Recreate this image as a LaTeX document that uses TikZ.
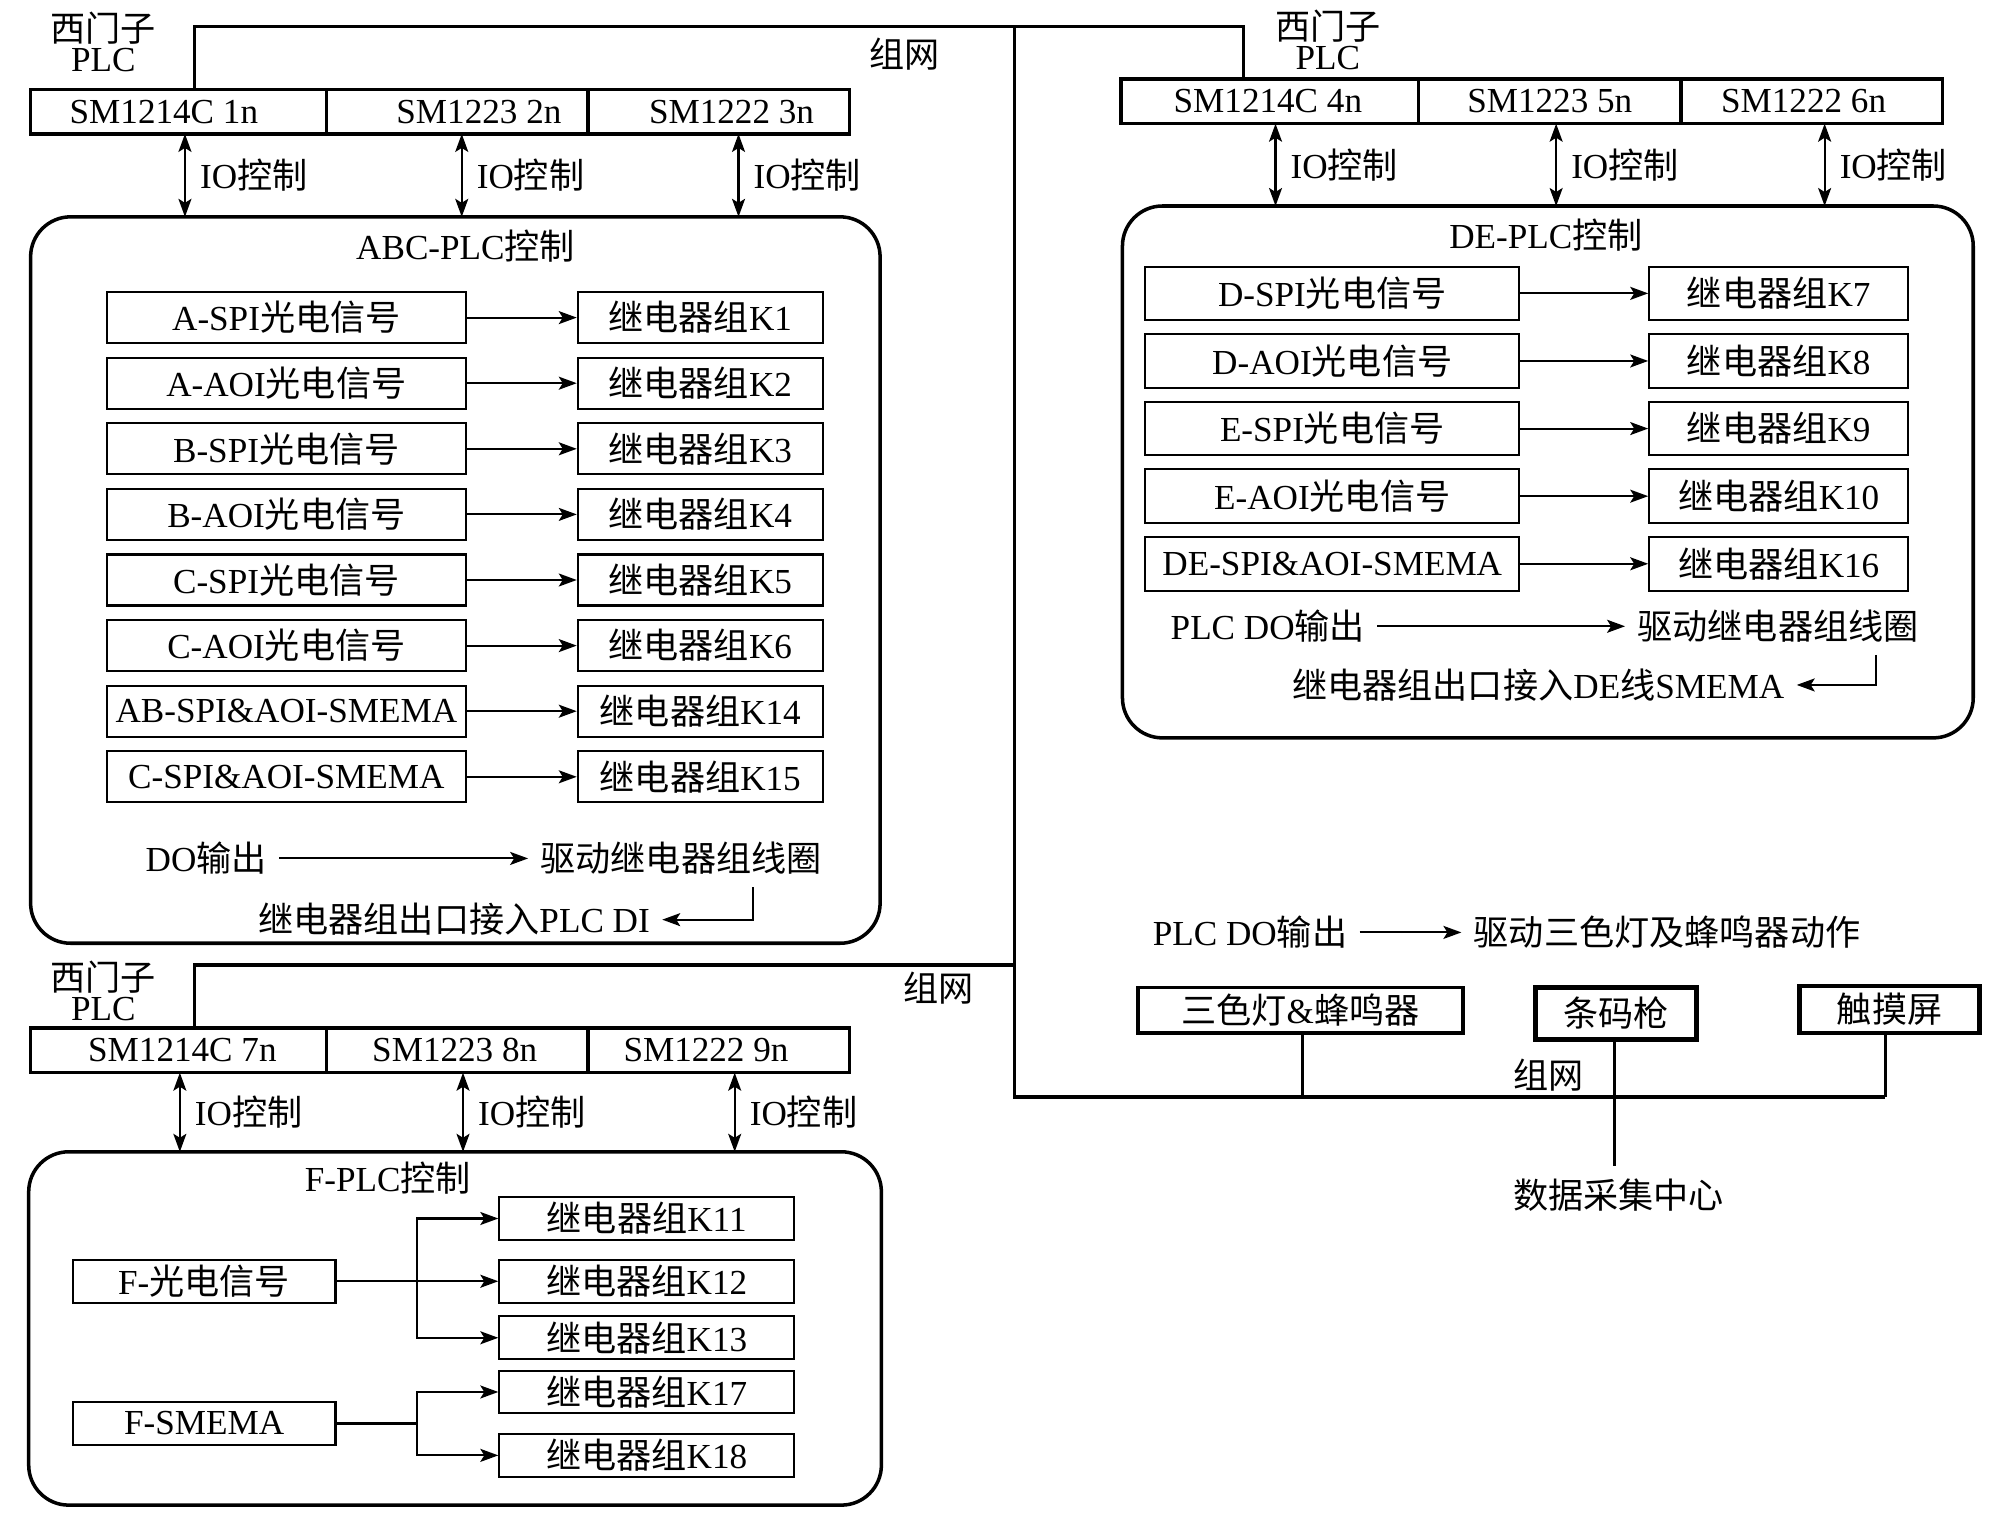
\documentclass[tikz,border=0pt]{standalone}
\usepackage{fontspec}
\setmainfont{Liberation Serif}
\newfontfamily\zh{Noto Sans CJK SC}
\usetikzlibrary{positioning,arrows.meta,calc}

\newcommand{\pxu}{0.012755cm}

\begin{document}
\begin{tikzpicture}[x=\pxu, y=-\pxu, font=\fontsize{10}{12}\selectfont,
    >={Stealth[length=1.8mm,width=1.3mm,inset=0.4mm]},
    cell/.style={draw, line width=1pt, minimum height=35*\pxu, inner sep=0pt, outer sep=0pt, anchor=west},
    sigbox/.style={draw, line width=0.6pt, inner sep=0pt},
    panel/.style={draw, line width=1pt, rounded corners=0.4cm, anchor=north west, inner sep=0pt, outer sep=0pt},
    link/.style={line width=0.6pt},
    net/.style={line width=0.9pt},
    io/.style={<->, line width=0.6pt},
    iolabel/.style={midway, right, inner sep=2pt, xshift=2pt}]
  \useasboundingbox (0,0) rectangle (1568,1196);

  % ---- ABC line PLC ----
  \node[align=center, inner sep=0pt, font=\fontsize{10}{8.5}\selectfont] (plcA) at (81,33) {{\zh 西门子}\\PLC};
  \node[cell, minimum width=232*\pxu, label={[xshift=-11.5*\pxu]center:SM1214C 1n}] (a1) at (24,87.5) {};
  \node[cell, minimum width=205*\pxu, label={[xshift=17*\pxu]center:SM1223 2n}] (a2) at (a1.east) {};
  \node[cell, minimum width=205*\pxu, label={[xshift=10*\pxu]center:SM1222 3n}] (a3) at (a2.east) {};

  \node[panel, minimum width=666*\pxu, minimum height=569.5*\pxu] (abc) at (24,170) {};
  \node (abcT) at (365,193) {ABC-PLC{\zh 控制}};
  \foreach \x/\c in {145/a1, 362/a2, 579/a3}
    \draw[io] (\c.south -| \x,0) -- (abc.north -| \x,0)
      node[iolabel] {IO{\zh 控制}};

  \foreach \i/\s/\k in {0/{A-SPI{\zh 光电信号}}/K1, 1/{A-AOI{\zh 光电信号}}/K2,
      2/{B-SPI{\zh 光电信号}}/K3, 3/{B-AOI{\zh 光电信号}}/K4,
      4/{C-SPI{\zh 光电信号}}/K5, 5/{C-AOI{\zh 光电信号}}/K6,
      6/{AB-SPI\&AOI-SMEMA}/K14, 7/{C-SPI\&AOI-SMEMA}/K15} {
    \node[sigbox, minimum width=281*\pxu, minimum height=40*\pxu] (abcS\i) at (224.5,{249+51.43*\i}) {\s};
    \node[sigbox, minimum width=192*\pxu, minimum height=40*\pxu] (abcK\i) at (549,{249+51.43*\i}) {{\zh 继电器组}\k};
    \draw[link,->] (abcS\i) -- (abcK\i);
  }
  \node (abcDO) at (161.7,673) {DO{\zh 输出}};
  \node (abcDrv) at (534,673) {\zh 驱动继电器组线圈};
  \node (abcDI) at (356,721) {{\zh 继电器组出口接入}PLC DI};
  \draw[link,->] (abcDO) -- (abcDrv);
  \draw[link,->] (abcDrv.south -| 590,0) |- (abcDI);

  % ---- DE line PLC ----
  \node[align=center, inner sep=0pt, font=\fontsize{10}{8.5}\selectfont] (plcD) at (1041,31) {{\zh 西门子}\\PLC};
  \node[cell, minimum width=233*\pxu, label={[xshift=-1.5*\pxu]center:SM1214C 4n}] (d1) at (879,79.5) {};
  \node[cell, minimum width=206*\pxu, label={center:SM1223 5n}] (d2) at (d1.east) {};
  \node[cell, minimum width=205*\pxu, label={[xshift=-6.5*\pxu]center:SM1222 6n}] (d3) at (d2.east) {};

  \node[panel, minimum width=667*\pxu, minimum height=417*\pxu] (de) at (880,161.5) {};
  \node (deT) at (1212,184) {DE-PLC{\zh 控制}};
  \foreach \x/\c in {1000/d1, 1220/d2, 1430.5/d3}
    \draw[io] (\c.south -| \x,0) -- (de.north -| \x,0)
      node[iolabel] {IO{\zh 控制}};

  \foreach \i/\s/\k in {0/{D-SPI{\zh 光电信号}}/K7, 1/{D-AOI{\zh 光电信号}}/K8,
      2/{E-SPI{\zh 光电信号}}/K9, 3/{E-AOI{\zh 光电信号}}/K10,
      4/{DE-SPI\&AOI-SMEMA}/K16} {
    \node[sigbox, minimum width=293*\pxu, minimum height=42*\pxu] (deS\i) at (1044.5,{230+53*\i}) {\s};
    \node[sigbox, minimum width=203*\pxu, minimum height=42*\pxu] (deK\i) at (1394.5,{230+53*\i}) {{\zh 继电器组}\k};
    \draw[link,->] (deS\i) -- (deK\i);
  }
  \node (deDO) at (994,491) {PLC DO{\zh 输出}};
  \node (deDrv) at (1394,491) {\zh 驱动继电器组线圈};
  \node (deSM) at (1206,537) {{\zh 继电器组出口接入}DE{\zh 线}SMEMA};
  \draw[link,->] (deDO) -- (deDrv);
  \draw[link,->] (deDrv.south -| 1471,0) |- (deSM);

  % ---- F line PLC ----
  \node[align=center, inner sep=0pt, font=\fontsize{10}{8.5}\selectfont] (plcF) at (81,777) {{\zh 西门子}\\PLC};
  \node[cell, minimum width=232*\pxu, label={[xshift=3*\pxu]center:SM1214C 7n}] (f1) at (24,823.5) {};
  \node[cell, minimum width=205*\pxu, label={[xshift=-2*\pxu]center:SM1223 8n}] (f2) at (f1.east) {};
  \node[cell, minimum width=205*\pxu, label={[xshift=-10*\pxu]center:SM1222 9n}] (f3) at (f2.east) {};

  \node[panel, minimum width=668.5*\pxu, minimum height=277*\pxu] (fp) at (22.5,903) {};
  \node (fpT) at (304,923.6) {F-PLC{\zh 控制}};
  \foreach \x/\c in {141/f1, 363/f2, 576/f3}
    \draw[io] (\c.south -| \x,0) -- (fp.north -| \x,0)
      node[iolabel] {IO{\zh 控制}};

  \node[sigbox, minimum width=206*\pxu, minimum height=33.5*\pxu] (fSig) at (160,1004.5) {F-{\zh 光电信号}};
  \node[sigbox, minimum width=206*\pxu, minimum height=33.5*\pxu] (fSM) at (160,1116) {F-SMEMA};
  \foreach \k/\y in {11/955.3, 12/1004.5, 13/1048.8, 17/1091.3, 18/1141}
    \node[sigbox, minimum width=231*\pxu, minimum height=33.5*\pxu] (fK\k) at (507,\y) {{\zh 继电器组}K\k};
  \coordinate (forkA) at (327,1004.5);
  \coordinate (forkB) at (327,1116);
  \draw[link] (fSig) -- (forkA);
  \draw[link] (fSM) -- (forkB);
  \foreach \k in {11,12,13} \draw[link,->] (forkA) |- (fK\k);
  \foreach \k in {17,18} \draw[link,->] (forkB) |- (fK\k);

  % ---- network ----
  \draw[net] (a1.north -| 152.5,0) -- (152.5,21) -- (975,21) -- (d1.north -| 975,0);
  \draw[net] (f1.north -| 152.5,0) -- (152.5,756.6) -- (795.5,756.6);
  \draw[net] (795.5,21) -- (795.5,860) -- (1478,860);
  \node (netA) at (709,42.5) {\zh 组网};
  \node (netF) at (736,775) {\zh 组网};
  \node (netB) at (1214,843) {\zh 组网};

  % ---- lamp, scanner, touch screen ----
  \node (lampDO) at (980,731) {PLC DO{\zh 输出}};
  \node (lampDrv) at (1307,731) {\zh 驱动三色灯及蜂鸣器动作};
  \draw[link,->] (lampDO) -- (lampDrv);
  \node[sigbox, line width=1pt, minimum width=255*\pxu, minimum height=36*\pxu] (lamp) at (1019.5,792) {{\zh 三色灯}\&{\zh 蜂鸣器}};
  \node[sigbox, line width=1.3pt, minimum width=126*\pxu, minimum height=41*\pxu] (scan) at (1267,794.5) {\zh 条码枪};
  \node[sigbox, line width=1.3pt, minimum width=141*\pxu, minimum height=37*\pxu] (touch) at (1481.5,791.5) {\zh 触摸屏};
  \node (dc) at (1269,937) {\zh 数据采集中心};
  \draw[net] (lamp.south -| 1021,0) -- (1021,860);
  \draw[net] (touch.south -| 1478,0) -- (1478,860);
  \draw[net] (scan.south -| 1266,0) -- (dc.north -| 1266,0);
\end{tikzpicture}
\end{document}
